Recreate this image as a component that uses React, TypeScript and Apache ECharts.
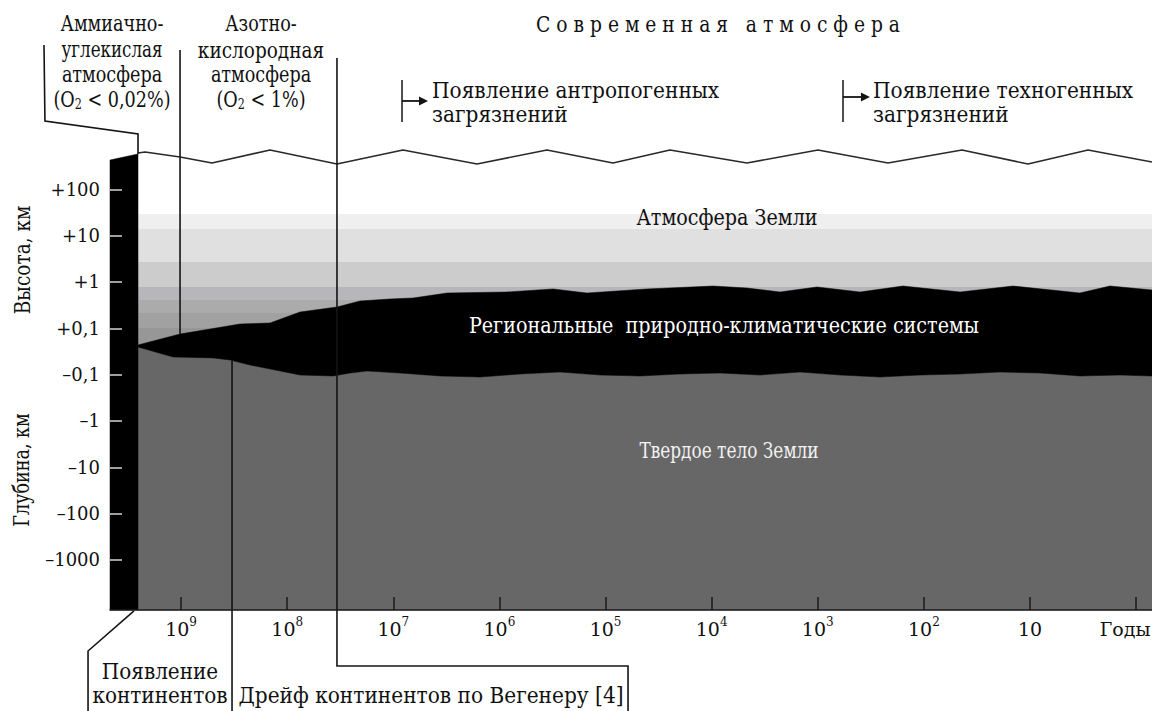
import React, { useEffect, useRef } from 'react';
import * as echarts from 'echarts';

const FONT = 'DejaVu Serif';
const INK = '#111111';
const FS = 22;
const SX = 0.8;

// X: log10 (years ago), Y: log-index of height (+100 km = 4 ... -1000 km = -4)
const X_TICKS = [9, 8, 7, 6, 5, 4, 3, 2, 1, 0];
const Y_TICKS = [4, 3, 2, 1, 0, -1, -2, -3, -4];
const Y_TICK_LABELS = ['+100', '+10', '+1', '+0,1', '–0,1', '–1', '–10', '–100', '–1000'];
const X_MIN = -0.15;
const X_MAX = 9.67;
const Y_MIN = -5.08;
const Y_MAX = 5;
const EARTH_START = 9.406;

const COLUMN = [[9.67, 4.633], [9.406, 4.763], [9.406, -5.08], [9.67, -5.08]];

const BAND_TOPS = [3.468, 3.144, 2.432, 1.892, 1.611, 1.331, 1.007];
const BAND_BOTTOMS = [3.144, 2.432, 1.892, 1.611, 1.331, 1.007, -0.1];
const BAND_COLORS = ['#efefef', '#e0e0e0', '#cccccc', '#b6b6bb', '#ababab', '#a1a1a1', '#979797'];

const REGIONAL_TOP = [
  [9.406, 0.64], [9.01, 0.877], [8.445, 1.093], [8.162, 1.115], [7.879, 1.352], [7.531, 1.46],
  [7.314, 1.59], [7.031, 1.633], [6.814, 1.654], [6.494, 1.762], [5.929, 1.784], [5.495, 1.849],
  [5.175, 1.762], [4.609, 1.849], [3.987, 1.913], [3.667, 1.87], [3.356, 1.784], [3.007, 1.892],
  [2.602, 1.784], [2.197, 1.913], [1.659, 1.784], [1.16, 1.913], [0.529, 1.762], [0.246, 1.913],
  [-0.15, 1.827],
];

const REGIONAL_BOTTOM = [
  [9.406, 0.597], [9.076, 0.381], [8.699, 0.36], [8.539, 0.317], [8.351, 0.208], [7.879, -0.008],
  [7.568, -0.029], [7.408, 0.035], [7.248, 0.079], [6.937, 0.035], [6.56, -0.029], [6.183, -0.051],
  [5.806, 0.014], [5.429, 0.057], [5.052, -0.008], [4.675, -0.029], [4.298, 0.014], [3.921, 0.035],
  [3.544, -0.008], [3.167, 0.057], [2.79, -0.008], [2.413, -0.051], [2.037, -0.008], [1.659, 0.014],
  [1.283, 0.057], [0.906, 0.035], [0.529, -0.029], [0.152, -0.008], [-0.15, -0.029],
];

const ENVELOPE = [
  [9.406, 4.784], [9.34, 4.806], [9.01, 4.698], [8.709, 4.568], [8.162, 4.849], [7.531, 4.547],
  [6.909, 4.849], [6.211, 4.547], [5.552, 4.849], [4.93, 4.568], [4.393, 4.849], [3.667, 4.568],
  [2.998, 4.849], [2.338, 4.568], [1.641, 4.849], [1.019, 4.547], [0.453, 4.849], [-0.15, 4.59],
];

const LEADERS = [
  [[10.292, 7.115], [10.283, 5.475], [9.406, 5.194], [9.406, 4.763]],
  [[9.01, 7.007], [9.01, 0.877]],
  [[7.531, 6.835], [7.531, -6.288], [4.788, -6.288], [4.788, -7.3]],
  [[8.52, 0.295], [8.52, -7.3]],
  [[9.444, -5.101], [9.877, -5.965], [9.877, -7.3]],
];

// [epoch, top, bottom, arrow level, arrow tip epoch]
const ARROWS = [
  [6.918, 6.36, 5.453, 5.907, 6.673],
  [2.762, 6.36, 5.453, 5.993, 2.508],
];

function txt(text: string, x: number, y: number, extra: any = {}) {
  return {
    type: 'text',
    x,
    y,
    z: 20,
    silent: true,
    scaleX: extra.sx || SX,
    ...(extra.rotation !== undefined ? { rotation: extra.rotation } : {}),
    style: {
      text,
      fill: extra.fill || INK,
      fontSize: extra.fontSize || FS,
      fontFamily: FONT,
      align: extra.align || 'center',
      verticalAlign: 'middle',
      ...(extra.rich ? { rich: extra.rich } : {}),
    },
  };
}

const SUB_RICH = { sub: { fontSize: 14, fontFamily: FONT, fill: INK, verticalAlign: 'bottom' } };

export default function App() {
  const ref = useRef<HTMLDivElement>(null);

  useEffect(() => {
    document.body.style.margin = '0';
    if (!ref.current) return;
    const chart = echarts.init(ref.current, undefined, { renderer: 'svg' });

    const earthPoly = [...REGIONAL_BOTTOM, [X_MIN, Y_MIN], [EARTH_START, Y_MIN]];
    const regionalPoly = [...REGIONAL_TOP, ...REGIONAL_BOTTOM.slice().reverse()];
    const polys = [
      { pts: earthPoly, color: '#676767' },
      { pts: regionalPoly, color: '#000000' },
      { pts: COLUMN, color: '#000000' },
    ];

    const option: any = {
      animation: false,
      backgroundColor: '#ffffff',
      textStyle: { fontFamily: FONT },
      grid: { left: 110, right: 0, top: 143, bottom: 101, containLabel: false, outerBoundsMode: 'none' },
      xAxis: {
        type: 'value',
        min: X_MIN,
        max: X_MAX,
        inverse: true,
        z: 10,
        splitLine: { show: false },
        axisLine: { show: true, onZero: false, lineStyle: { color: '#1a1a1a', width: 1.5 } },
        axisTick: { show: true, inside: true, length: 13, customValues: X_TICKS, lineStyle: { color: '#1a1a1a', width: 1.5 } },
        axisLabel: {
          show: true,
          customValues: X_TICKS,
          margin: 6,
          fontFamily: FONT,
          formatter: (v: number) => {
            const n = Math.round(v);
            if (n === 0) return '{g|Годы}';
            if (n === 1) return '{n|10}';
            return '{n|10}{s|' + n + '}';
          },
          rich: {
            n: { fontSize: 19, fontFamily: FONT, color: INK, lineHeight: 26 },
            s: { fontSize: 12, fontFamily: FONT, color: INK, verticalAlign: 'top', lineHeight: 18 },
            g: { fontSize: 19, fontFamily: FONT, color: INK, lineHeight: 26, padding: [0, 22, 0, 0] },
          },
        },
      },
      yAxis: {
        type: 'value',
        min: Y_MIN,
        max: Y_MAX,
        z: 10,
        splitLine: { show: false },
        axisLine: { show: false, onZero: false },
        axisTick: { show: true, inside: true, length: 12, customValues: Y_TICKS, lineStyle: { color: '#d4d4d4', width: 1.5 } },
        axisLabel: {
          show: true,
          customValues: Y_TICKS,
          margin: 10,
          fontSize: 18,
          fontFamily: FONT,
          color: INK,
          formatter: (v: number) => {
            const i = Y_TICKS.indexOf(Math.round(v));
            return i >= 0 ? Y_TICK_LABELS[i] : '';
          },
        },
      },
      series: [
        {
          type: 'custom',
          name: 'bands',
          silent: true,
          z: 1,
          data: BAND_COLORS.map(() => [5, 0]),
          renderItem: (params: any, api: any) => {
            const i = params.dataIndex;
            const p1 = api.coord([EARTH_START, BAND_TOPS[i]]);
            const p2 = api.coord([X_MIN, BAND_BOTTOMS[i]]);
            return {
              type: 'rect',
              shape: { x: p1[0], y: p1[1], width: p2[0] - p1[0], height: p2[1] - p1[1] + 0.5 },
              style: { fill: BAND_COLORS[i] },
            };
          },
        },
        {
          type: 'custom',
          name: 'regions',
          silent: true,
          z: 2,
          data: polys.map(() => [5, 0]),
          renderItem: (params: any, api: any) => {
            const p = polys[params.dataIndex];
            return {
              type: 'polygon',
              shape: { points: p.pts.map((q: number[]) => api.coord(q)) },
              style: { fill: p.color, stroke: p.color, lineWidth: 0.5 },
            };
          },
        },
        {
          type: 'line',
          name: 'envelope',
          silent: true,
          z: 4,
          data: ENVELOPE,
          symbol: 'none',
          lineStyle: { color: '#2a2a2a', width: 1.6 },
        },
        {
          type: 'custom',
          name: 'leaders',
          silent: true,
          clip: false,
          z: 5,
          data: LEADERS.map(() => [5, 0]),
          renderItem: (params: any, api: any) => {
            const pl = LEADERS[params.dataIndex];
            return {
              type: 'polyline',
              shape: { points: pl.map((q) => api.coord(q)) },
              style: { stroke: '#141414', lineWidth: 1.6, fill: null },
            };
          },
        },
        {
          type: 'custom',
          name: 'arrows',
          silent: true,
          clip: false,
          z: 5,
          data: ARROWS.map(() => [5, 0]),
          renderItem: (params: any, api: any) => {
            const a = ARROWS[params.dataIndex];
            const top = api.coord([a[0], a[1]]);
            const bot = api.coord([a[0], a[2]]);
            const mid = api.coord([a[0], a[3]]);
            const tip = api.coord([a[4], a[3]]);
            return {
              type: 'group',
              children: [
                { type: 'line', shape: { x1: top[0], y1: top[1], x2: bot[0], y2: bot[1] }, style: { stroke: '#141414', lineWidth: 1.5 } },
                { type: 'line', shape: { x1: mid[0], y1: mid[1], x2: tip[0] - 6, y2: tip[1] }, style: { stroke: '#141414', lineWidth: 1.8 } },
                {
                  type: 'polygon',
                  shape: { points: [[tip[0], tip[1]], [tip[0] - 9, tip[1] - 4.5], [tip[0] - 9, tip[1] + 4.5]] },
                  style: { fill: '#141414' },
                },
              ],
            };
          },
        },
      ],
      graphic: [
        txt('Аммиачно-', 112, 24),
        txt('углекислая', 112, 50, { sx: 0.76 }),
        txt('атмосфера', 112, 75),
        txt('(O{sub|2} < 0,02%)', 112, 100, { rich: SUB_RICH }),
        txt('Азотно-', 261, 24),
        txt('кислородная', 261, 50, { sx: 0.84 }),
        txt('атмосфера', 261, 75),
        txt('(O{sub|2} < 1%)', 261, 100, { rich: SUB_RICH }),
        txt('С о в р е м е н н а я   а т м о с ф е р а', 718, 24, { sx: 0.85 }),
        txt('Появление антропогенных', 432, 90, { align: 'left', sx: 0.915 }),
        txt('загрязнений', 432, 114, { align: 'left', sx: 0.915 }),
        txt('Появление техногенных', 873, 90, { align: 'left', sx: 0.915 }),
        txt('загрязнений', 873, 114, { align: 'left', sx: 0.915 }),
        txt('Атмосфера Земли', 727, 218, { sx: 0.87 }),
        txt('Региональные  природно-климатические системы', 724, 326, { fill: '#ffffff', sx: 0.87 }),
        txt('Твердое тело Земли', 729, 451, { fill: '#f2f2f2', sx: 0.77 }),
        txt('Высота, км', 22, 260, { rotation: Math.PI / 2, sx: 0.84 }),
        txt('Глубина, км', 22, 470, { rotation: Math.PI / 2, sx: 0.8 }),
        txt('Появление', 160, 671, { sx: 0.91 }),
        txt('континентов', 160, 695, { sx: 0.91 }),
        txt('Дрейф континентов по Вегенеру [4]', 431, 695, { sx: 0.915 }),
      ],
    };

    chart.setOption(option);
    return () => {
      chart.dispose();
    };
  }, []);

  return (
    <div
      ref={ref}
      style={{ position: 'absolute', left: 0, top: 0, width: 1152, height: 711, background: '#fff' }}
    />
  );
}
